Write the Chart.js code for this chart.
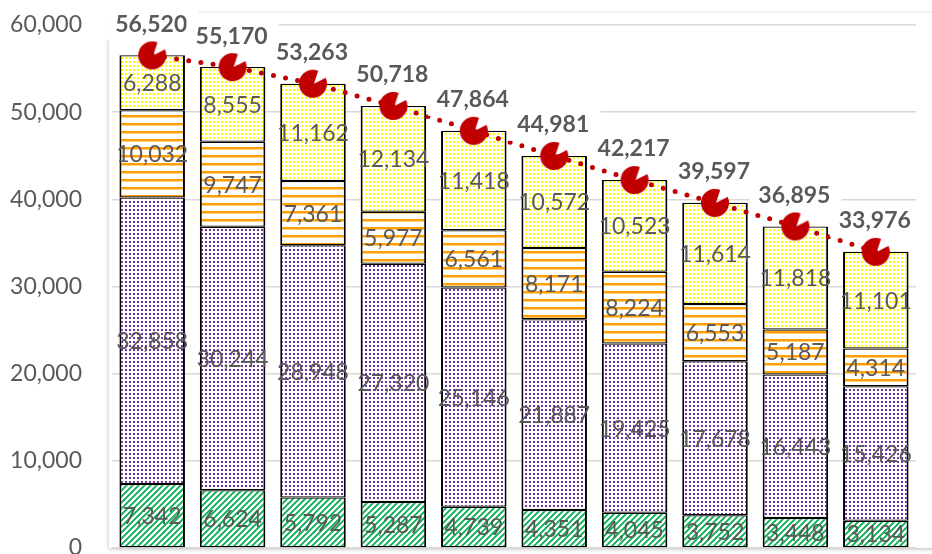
<!DOCTYPE html>
<html>
<head>
<meta charset="utf-8">
<script src="https://cdn.jsdelivr.net/npm/chart.js@4/dist/chart.umd.min.js"></script>
<style>
  html, body { margin: 0; padding: 0; background: #ffffff; overflow: hidden; width: 932px; height: 554px; }
  #wrap { position: relative; width: 935px; height: 567px; }
</style>
</head>
<body>
<div id="wrap"><canvas id="c"></canvas></div>
<script>
// ---- data ----
const categories = ['1', '2', '3', '4', '5', '6', '7', '8', '9', '10'];
const seriesGreen  = [7342, 6624, 5792, 5287, 4739, 4351, 4045, 3752, 3448, 3134];
const seriesPurple = [32858, 30244, 28948, 27320, 25146, 21887, 19425, 17678, 16443, 15426];
const seriesOrange = [10032, 9747, 7361, 5977, 6561, 8171, 8224, 6553, 5187, 4314];
const seriesYellow = [6288, 8555, 11162, 12134, 11418, 10572, 10523, 11614, 11818, 11101];
const totals       = [56520, 55170, 53263, 50718, 47864, 44981, 42217, 39597, 36895, 33976];
const yTicks       = [0, 10000, 20000, 30000, 40000, 50000, 60000];

const FONT = 'Lato, "Open Sans", sans-serif';
const GRAY = '#595959';

function fmt(v) { return Number(v).toLocaleString('en-US'); }

// ---- patterns ----
function dotPattern(color) {
  const c = document.createElement('canvas'); c.width = 4; c.height = 4;
  const x = c.getContext('2d');
  x.fillStyle = '#ffffff'; x.fillRect(0, 0, 4, 4);
  x.fillStyle = color; x.fillRect(1, 1, 2, 2);
  return x.createPattern(c, 'repeat');
}
function stripePattern(color) {
  const c = document.createElement('canvas'); c.width = 8; c.height = 8;
  const x = c.getContext('2d');
  x.fillStyle = '#ffffff'; x.fillRect(0, 0, 8, 8);
  x.fillStyle = color; x.fillRect(0, 3, 8, 2.5);
  return x.createPattern(c, 'repeat');
}
function diagPattern(color) {
  const n = 6;
  const c = document.createElement('canvas'); c.width = n; c.height = n;
  const x = c.getContext('2d');
  x.fillStyle = '#ffffff'; x.fillRect(0, 0, n, n);
  x.strokeStyle = color; x.lineWidth = 1.8;
  x.beginPath();
  x.moveTo(-1, n + 1); x.lineTo(n + 1, -1);
  x.moveTo(-1, 1); x.lineTo(1, -1);
  x.moveTo(n - 1, n + 1); x.lineTo(n + 1, n - 1);
  x.stroke();
  return x.createPattern(c, 'repeat');
}

// ---- marker (red circle with a notch) ----
function makeMarker() {
  const s = 32, r = 14, c = s / 2;
  const cv = document.createElement('canvas'); cv.width = s; cv.height = s;
  const x = cv.getContext('2d');
  x.fillStyle = '#c00000';
  x.beginPath();
  x.moveTo(c + 1, c);
  x.arc(c, c, r, -25 * Math.PI / 180, 292 * Math.PI / 180);
  x.closePath();
  x.fill();
  return cv;
}

// ---- plugins ----
const plotBg = {
  id: 'plotBg',
  beforeDraw(chart) {
    const ctx = chart.ctx;
    ctx.save();
    ctx.shadowColor = 'rgba(0,0,0,0.28)';
    ctx.shadowBlur = 4;
    ctx.shadowOffsetX = 0;
    ctx.shadowOffsetY = 1;
    ctx.fillStyle = '#ffffff';
    ctx.fillRect(109, 13, 900, 535);
    ctx.restore();
  }
};

const labels = {
  id: 'labels',
  afterDatasetsDraw(chart) {
    const ctx = chart.ctx;
    ctx.save();
    ctx.textAlign = 'center';
    ctx.textBaseline = 'middle';
    // segment labels
    ctx.font = '23px ' + FONT;
    ctx.fillStyle = GRAY;
    chart.data.datasets.forEach((ds, di) => {
      if (ds.type === 'line') return;
      const meta = chart.getDatasetMeta(di);
      meta.data.forEach((el, i) => {
        const cy = (el.y + el.base) / 2;
        ctx.fillText(fmt(ds.data[i]), el.x, cy + 1);
      });
    });
    // total labels (white boxes)
    chart.data.datasets.forEach((ds, di) => {
      if (ds.type !== 'line') return;
      const meta = chart.getDatasetMeta(di);
      ctx.font = 'bold 23px ' + FONT;
      meta.data.forEach((el, i) => {
        const t = fmt(ds.data[i]);
        const w = ctx.measureText(t).width;
        const ty = el.y - 32;
        ctx.fillStyle = '#ffffff';
        ctx.fillRect(el.x - w / 2 - 10, ty - 14, w + 20, 31);
        ctx.fillStyle = GRAY;
        ctx.fillText(t, el.x - 1, ty + 1);
      });
    });
    ctx.restore();
  }
};

// ---- chart ----
const ctx = document.getElementById('c').getContext('2d');
const barCommon = {
  type: 'bar',
  stack: 'bars',
  order: 2,
  borderColor: '#000000',
  borderWidth: { left: 2, right: 2, top: 1.25, bottom: 1.25 },
  borderSkipped: false,
  categoryPercentage: 1.0,
  barPercentage: 0.815
};

new Chart(ctx, {
  data: {
    labels: categories,
    datasets: [
      Object.assign({ label: 'green',  data: seriesGreen,  backgroundColor: diagPattern('#00b050') }, barCommon),
      Object.assign({ label: 'purple', data: seriesPurple, backgroundColor: dotPattern('#7030a0') }, barCommon),
      Object.assign({ label: 'orange', data: seriesOrange, backgroundColor: stripePattern('#ffa000') }, barCommon),
      Object.assign({ label: 'yellow', data: seriesYellow, backgroundColor: dotPattern('#ffff00') }, barCommon),
      {
        type: 'line',
        label: 'total',
        stack: 'total',
        order: 0,
        data: totals,
        borderColor: '#c00000',
        borderWidth: 5,
        borderDash: [0, 12.3],
        borderCapStyle: 'round',
        fill: false,
        tension: 0,
        pointStyle: makeMarker(),
        pointRadius: 14,
        pointHoverRadius: 14
      }
    ]
  },
  options: {
    responsive: true,
    maintainAspectRatio: false,
    animation: false,
    events: [],
    layout: { padding: { top: 25, bottom: 0, left: 0, right: 0 } },
    plugins: {
      legend: { display: false },
      tooltip: { enabled: false },
      title: { display: false }
    },
    scales: {
      x: {
        stacked: true,
        display: false,
        grid: { display: false }
      },
      y: {
        stacked: true,
        min: 0,
        max: 60000,
        afterBuildTicks(scale) { scale.ticks = yTicks.map(v => ({ value: v })); },
        afterFit(scale) { scale.width = 112; scale.paddingTop = 0; scale.paddingBottom = 0; },
        border: { display: false },
        grid: { color: '#d9d9d9', lineWidth: 1.5, drawTicks: false },
        ticks: {
          padding: 30,
          color: GRAY,
          font: { family: FONT, size: 23 },
          callback: v => fmt(v)
        }
      }
    }
  },
  plugins: [plotBg, labels]
});
</script>
</body>
</html>
